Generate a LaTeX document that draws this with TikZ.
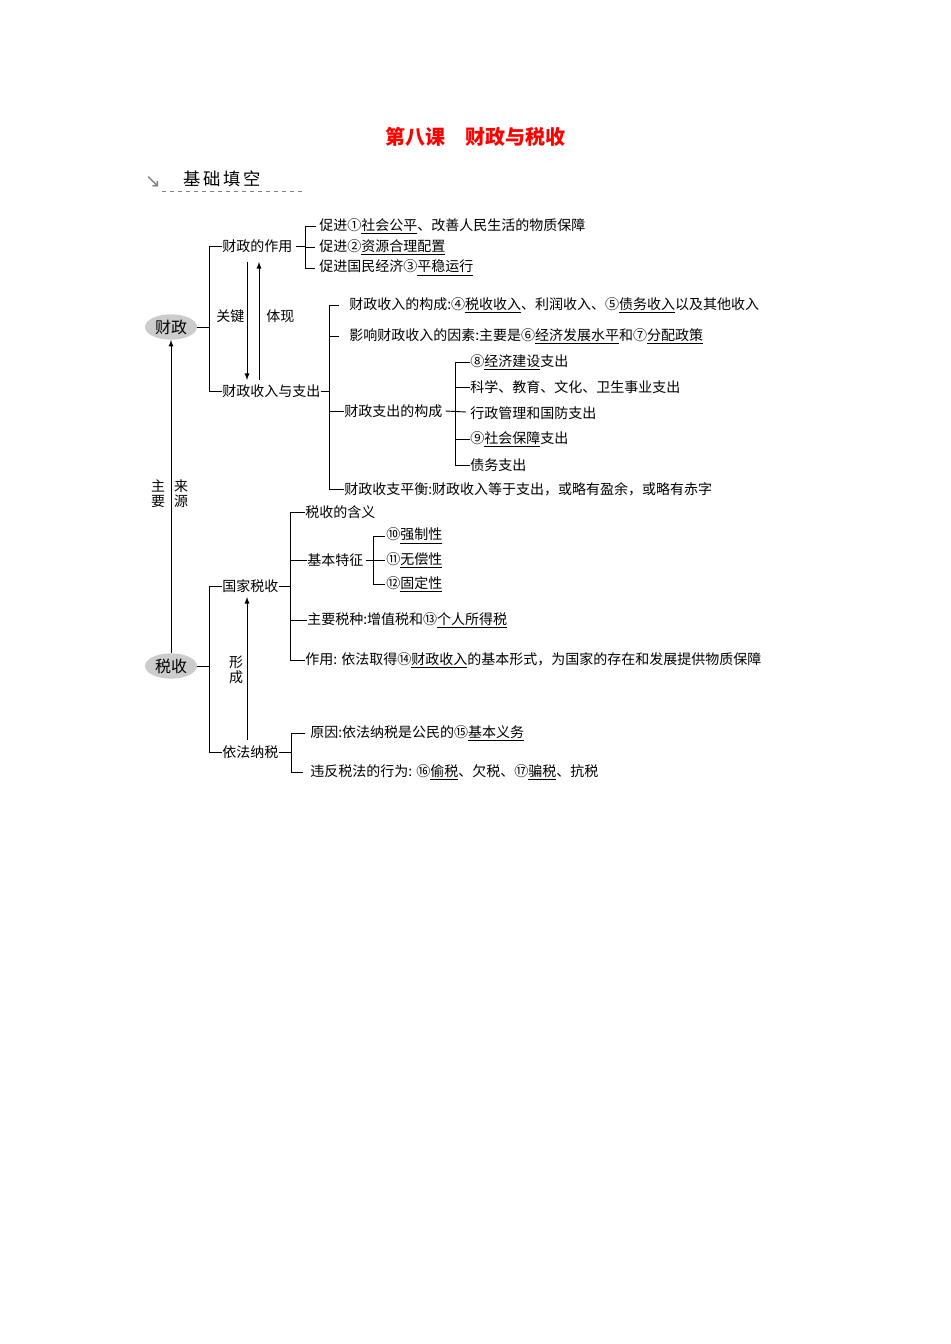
\documentclass[tikz,border=0pt]{standalone}
\usepackage{fontspec}
\usetikzlibrary{shapes.geometric}
\setmainfont{Noto Sans CJK SC}
\newfontfamily\dv{DejaVu Sans}
\begin{document}
\begin{tikzpicture}[x=0.75pt,y=-0.75pt,
  t/.style={anchor=west,inner sep=0pt,font=\fontsize{10.5pt}{12pt}\selectfont},
  ln/.style={line width=0.7pt},
  ell/.style={ellipse,fill=gray!40,minimum width=39pt,minimum height=19pt,inner sep=0pt,font=\fontsize{12pt}{14pt}\selectfont}]
\useasboundingbox (0,0) rectangle (950,1344);
\node[font=\fontsize{15pt}{18pt}\selectfont\bfseries,text=red] (title) at (475,137) {第八课\quad 财政与税收};
\node[font=\dv\fontsize{14pt}{16pt}\selectfont,text=gray] (ic) at (153,182) {↘};
\node[font=\fontsize{13pt}{15pt}\selectfont,anchor=west,inner sep=0pt] (jc) at (183,179) {基\,础\,填\,空};
\draw[dashed,gray] (162,191) -- (305,191);
\node[ell] (cz) at (171,327) {财政};
\node[ell] (ss) at (171,666) {税收};
\draw[ln,-latex] (ss.north) -- (cz.south);
\node[t,anchor=center,align=center,font=\fontsize{10.5pt}{11pt}\selectfont] (zy) at (158,494) {主\\要};
\node[t,anchor=center,align=center,font=\fontsize{10.5pt}{11pt}\selectfont] (ly) at (181,494) {来\\源};
% 财政 tree
\node[t] (a1) at (222,246) {财政的作用};
\node[t] (a2) at (222,391) {财政收入与支出};
\draw[ln] (cz.east) -- (209,327);
\draw[ln] (a1.west) -- (209,246) -- (209,391) -- (a2.west);
\draw[ln,-latex] (247,262) -- (247,380);
\draw[ln,-latex] (259,380) -- (259,262);
\node[t] (gj) at (216,316) {关键};
\node[t] (tx) at (266,316) {体现};
\node[t] (b1) at (319,226) {促进①\underline{社会公平}、改善人民生活的物质保障};
\node[t] (b2) at (319,247) {促进②\underline{资源合理配置}};
\node[t] (b3) at (319,268) {促进国民经济③\underline{平稳运行}};
\draw[ln] (a1.east) ++(3,0) -- (305,246);
\draw[ln] (b1.west) ++(-3,0) -- (305,226) -- (305,268) -- ([xshift=-3]b3.west);
\draw[ln] (305,247) -- ([xshift=-3]b2.west);
\node[t] (c1) at (349,305) {财政收入的构成:④\underline{税收收入}、利润收入、⑤\underline{债务收入}以及其他收入};
\node[t] (c2) at (349,336) {影响财政收入的因素:主要是⑥\underline{经济发展水平}和⑦\underline{分配政策}};
\node[t] (c3) at (344,411) {财政支出的构成};
\node[t] (c4) at (344,489) {财政收支平衡:财政收入等于支出，或略有盈余，或略有赤字};
\draw[ln] (a2.east) -- (329,391);
\draw[ln] (339,305) -- (329,305) -- (329,489) -- (c4.west);
\draw[ln] (329,336) -- (339,336);
\draw[ln] (329,411) -- (c3.west);
\node[t] (d1) at (470,362) {⑧\underline{经济建设}支出};
\node[t] (d2) at (470,387) {科学、教育、文化、卫生事业支出};
\node[t] (d3) at (470,413) {行政管理和国防支出};
\node[t] (d4) at (470,439) {⑨\underline{社会保障}支出};
\node[t] (d5) at (470,465) {债务支出};
\draw[ln] (c3.east) ++(3,0) -- (466,412);
\draw[ln] (d1.west) -- (455,362) -- (455,465) -- (d5.west);
\draw[ln] (455,387) -- (d2.west);
\draw[ln] (455,439) -- (d4.west);
% 税收 tree
\node[t] (e1) at (222,586) {国家税收};
\node[t] (e2) at (222,752) {依法纳税};
\draw[ln] (ss.east) -- (209,666);
\draw[ln] (e1.west) -- (209,586) -- (209,752) -- (e2.west);
\draw[ln,-latex] (247,740) -- (247,597);
\node[t,anchor=center,align=center,font=\fontsize{10.5pt}{11pt}\selectfont] (xc) at (236,670) {形\\成};
\node[t] (f1) at (305,512) {税收的含义};
\node[t] (f2) at (307,560) {基本特征};
\node[t] (f3) at (307,620) {主要税种:增值税和⑬\underline{个人所得税}};
\node[t] (f4) at (305,660) {作用: 依法取得⑭\underline{财政收入}的基本形式，为国家的存在和发展提供物质保障};
\draw[ln] (e1.east) -- (290,586);
\draw[ln] (f1.west) -- (290,512) -- (290,660) -- (f4.west);
\draw[ln] (290,560) -- (f2.west);
\draw[ln] (290,620) -- (f3.west);
\node[t] (g1) at (386,536) {⑩\underline{强制性}};
\node[t] (g2) at (386,560) {⑪\underline{无偿性}};
\node[t] (g3) at (386,584) {⑫\underline{固定性}};
\draw[ln] (f2.east) ++(2,0) -- (385,560);
\draw[ln] (g1.west) ++(-1,0) -- (373,536) -- (373,584) -- ([xshift=-1]g3.west);
\node[t] (h1) at (310,733) {原因:依法纳税是公民的⑮\underline{基本义务}};
\node[t] (h2) at (310,772) {违反税法的行为: ⑯\underline{偷税}、欠税、⑰\underline{骗税}、抗税};
\draw[ln] (e2.east) -- (291,752);
\draw[ln] (h1.west) ++(-5,0) -- (291,733) -- (291,772) -- ([xshift=-5]h2.west);
\end{tikzpicture}
\end{document}
